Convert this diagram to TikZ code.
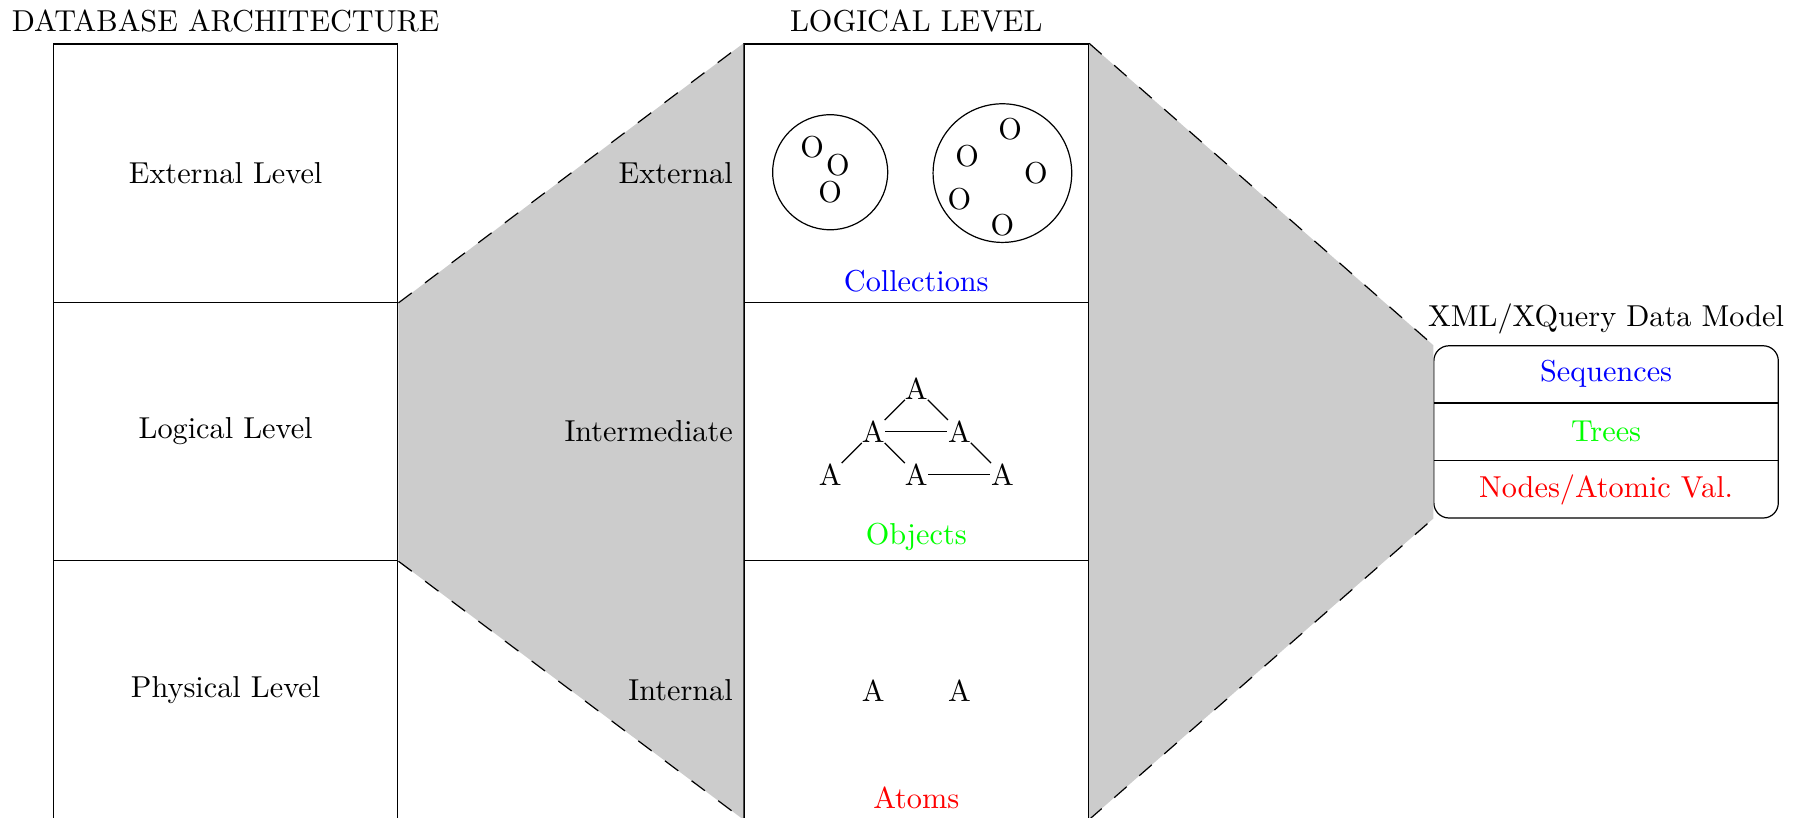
\documentclass[tikz,border=0pt]{standalone}
\begin{document}
\begin{tikzpicture}[
  lvl/.style={draw, minimum width=4cm, minimum height=3cm, inner sep=0pt},
  captext/.style={anchor=south},
  glyph/.style={inner sep=0pt},
  shade/.style={fill=black!20},
  border/.style={dash pattern=on 5.5pt off 5.5pt},
  ring/.style={draw, circle, inner sep=0pt}
]
\useasboundingbox (0,0) rectangle (20.96,-9.49);

% left column
\node[lvl] (ext) at (2.62,-2.01) {External Level};
\node[lvl] (log) at (2.62,-5.01) {Logical Level};
\node[lvl] (phy) at (2.62,-8.01) {Physical Level};
\node[above] (dbtitle) at (ext.north) {DATABASE ARCHITECTURE};

% middle column
\node[lvl] (mext) at (10.64,-2.01) {};
\node[lvl] (mint) at (10.64,-5.01) {};
\node[lvl] (mphy) at (10.64,-8.01) {};
\node[above] (lltitle) at (mext.north) {LOGICAL LEVEL};

% right box
\node[draw, rounded corners=5pt, minimum width=4cm, minimum height=2cm, inner sep=0pt] (xml) at (18.65,-5.015) {};
\node[above] (xmltitle) at (xml.north) {XML/XQuery Data Model};
\coordinate (d1w) at (16.65,-4.68);
\coordinate (d1e) at (20.65,-4.68);
\coordinate (d2w) at (16.65,-5.35);
\coordinate (d2e) at (20.65,-5.35);
\draw (d1w) -- (d1e);
\draw (d2w) -- (d2e);
\node[text=blue] (seq) at (18.65,-4.345) {Sequences};
\node[text=green] (trees) at (18.65,-5.015) {Trees};
\node[text=red] (nav) at (18.65,-5.685) {Nodes/Atomic Val.};

% grey wedges
\fill[shade] (ext.south east) -- (mext.north west) -- (mphy.south west) -- (log.south east) -- cycle;
\fill[shade] (mext.north east) -- (xml.north west) -- (xml.south west) -- (mphy.south east) -- cycle;
\draw[border] (ext.south east) -- (mext.north west);
\draw[border] (log.south east) -- (mphy.south west);
\draw[border] (mext.north east) -- (xml.north west);
\draw[border] (mphy.south east) -- (xml.south west);

% side labels
\node[left] (lext) at (mext.west) {External};
\node[left] (lint) at (mint.west) {Intermediate};
\node[left] (lphy) at (mphy.west) {Internal};

% captions
\node[captext, text=blue] (coll) at (mext.south) {Collections};
\node[captext, text=green] (objs) at (mint.south) {Objects};
\node[captext, text=red] (atoms) at (mphy.south) {Atoms};

% collections
\node[ring, minimum size=1.336cm] (c1) at (9.64,-2.00) {};
\node[ring, minimum size=1.61cm] (c2) at (11.64,-2.01) {};
\node[glyph] (o1) at (9.43,-1.71) {O};
\node[glyph] (o2) at (9.73,-1.92) {O};
\node[glyph] (o3) at (9.64,-2.23) {O};
\node[glyph] (o4) at (11.73,-1.50) {O};
\node[glyph] (o5) at (11.23,-1.81) {O};
\node[glyph] (o6) at (12.03,-2.01) {O};
\node[glyph] (o7) at (11.14,-2.31) {O};
\node[glyph] (o8) at (11.64,-2.61) {O};

% objects (tree)
\node[glyph] (t) at (10.64,-4.51) {A};
\node[glyph] (ml) at (10.14,-5.01) {A};
\node[glyph] (mr) at (11.14,-5.01) {A};
\node[glyph] (bl) at (9.64,-5.51) {A};
\node[glyph] (bm) at (10.64,-5.51) {A};
\node[glyph] (br) at (11.64,-5.51) {A};
\draw (t) -- (ml);
\draw (t) -- (mr);
\draw (ml) -- (mr);
\draw (ml) -- (bl);
\draw (ml) -- (bm);
\draw (bm) -- (br);
\draw (mr) -- (br);

% atoms
\node[glyph] (a1) at (10.14,-8.02) {A};
\node[glyph] (a2) at (11.14,-8.02) {A};
\end{tikzpicture}
\end{document}
